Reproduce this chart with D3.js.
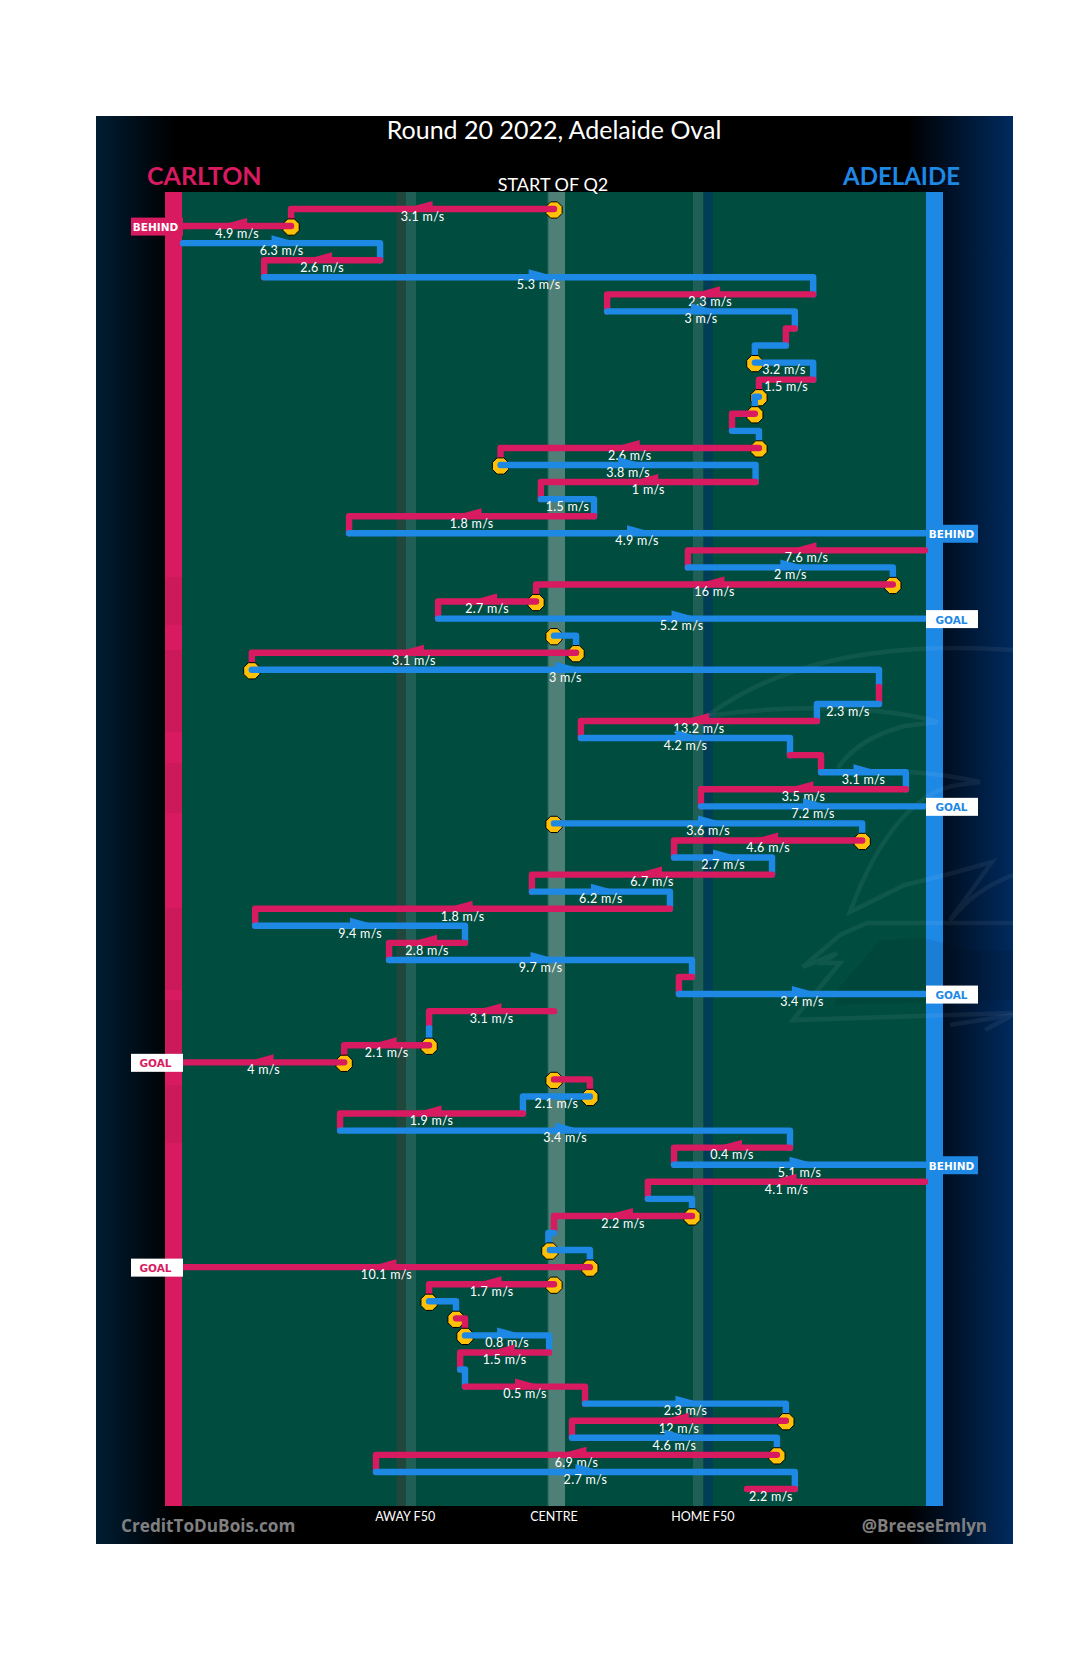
<!DOCTYPE html>
<html><head><meta charset="utf-8">
<script src="https://cdn.jsdelivr.net/npm/d3@7"></script>
<style>html,body{margin:0;padding:0;background:#fff}svg{display:block}</style>
</head><body><div id="chart"></div>
<script>
// Pitch position: -99.2 = away goal line, 0 = centre, 99.2 = home goal line
const team = ("CCACACACAA"+"CACACACACA"+"CACCAACACA"+"CACACAACAC"+"ACACACACAC"+"CCACACACAC"+"AACCACACAC"+"ACACAC").split("");
const startX = [0,-70.3,-99.2,-46.5,-77.5,69.3,14.2,64.4,62,53.7,69.3,54.8,53.7,47.6,54.8,-14.3,53.9,-3.5,10.7,-54.8,99.2,35.8,90.6,-4.8,-31,0,5.9,-80.8,86.9,86.9,70.3,7.2,63.1,71.4,94.1,39.3,0,82.4,32.1,58.3,-5.9,31,-79.9,-23.8,-44.1,36.9,33.4,0,-33.4,-33.4,-56.1,0,9.6,-8.3,-57.2,63.1,32.1,99.2,25.1,36.9,0,-1.1,9.6,0,-33.4,-26.2,-23.8,-1.3,-25.1,-23.8,8.3,62,4.8,59.6,-47.6,64.4];
const endX = [-70.3,-99.2,-46.5,-77.5,69.3,14.2,64.4,62,53.7,69.3,54.8,53.7,47.6,54.8,-14.3,53.9,-3.5,10.7,-54.8,99.2,35.8,90.6,-4.8,-31,99.2,5.9,-80.8,86.9,86.9,70.3,7.2,63.1,71.4,94.1,39.3,99.2,82.4,32.1,58.3,-5.9,31,-79.9,-23.8,-44.1,36.9,33.4,99.2,-33.4,-33.4,-56.1,-99.2,9.6,-8.3,-57.2,63.1,32.1,99.2,25.1,36.9,0,-1.5,9.6,-99.2,-33.4,-26.2,-23.8,-1.3,-25.1,-23.8,8.3,62,4.8,59.6,-47.6,64.4,51.6];
const speed = [3.1,4.9,6.3,2.6,5.3,2.3,3,null,null,3.2,1.5,null,null,null,2.6,3.8,1,1.5,1.8,4.9,7.6,2,16,2.7,5.2,null,3.1,3,null,2.3,13.2,4.2,null,3.1,3.5,7.2,3.6,4.6,2.7,6.7,6.2,1.8,9.4,2.8,9.7,null,3.4,3.1,null,2.1,4,null,2.1,1.9,3.4,0.4,5.1,4.1,null,2.2,null,null,10.1,1.7,null,null,0.8,1.5,null,0.5,2.3,12,4.6,6.9,2.7,2.2];
const contestRows = [0,1,9,11,12,14,15,22,23,25,26,27,36,37,49,50,51,52,59,61,62,63,64,65,66,71,73];
const outcomes = [[1,"BEHIND"],[19,"BEHIND"],[24,"GOAL"],[35,"GOAL"],[46,"GOAL"],[50,"GOAL"],[56,"BEHIND"],[62,"GOAL"]];
const zoneLabels = [["AWAY F50",-39.8],["CENTRE",0],["HOME F50",39.8]];
const teamNames = {C:"CARLTON",A:"ADELAIDE"};
const teamColor = {C:"#d81b60",A:"#1e88e5"};
const FONT = "Lato, 'Open Sans', sans-serif";

const svg = d3.select("#chart").append("svg").attr("width",1080).attr("height",1675);
const x = d3.scaleLinear().domain([-100,100]).range([180,928]);
const y = d3.scaleLinear().domain([0,75]).range([209,1489]);

const defs = svg.append("defs");
const bg = defs.append("linearGradient").attr("id","bgGrad").attr("x1",0).attr("x2",1).attr("y1",0).attr("y2",0);
[[0,"#001d33"],[0.085,"#000000"],[0.885,"#000000"],[1,"#002a5e"]].forEach(s=>bg.append("stop").attr("offset",s[0]).attr("stop-color",s[1]));
const cg = defs.append("linearGradient").attr("id","centreGrad").attr("x1",0).attr("x2",1).attr("y1",0).attr("y2",0);
[[0,"#004d40"],[0.12,"#4f8077"],[1,"#4f8077"]].forEach(s=>cg.append("stop").attr("offset",s[0]).attr("stop-color",s[1]));
defs.append("clipPath").attr("id","panelClip").append("rect").attr("x",96).attr("y",116).attr("width",917).attr("height",1428);

// panel and pitch
svg.append("rect").attr("x",96).attr("y",116).attr("width",917).attr("height",1428).attr("fill","url(#bgGrad)");
svg.append("rect").attr("x",165).attr("y",192).attr("width",778).attr("height",1314).attr("fill","#004d40");
svg.append("rect").attr("x",396.5).attr("y",192).attr("width",9.5).attr("height",1314).attr("fill","#21473c");
svg.append("rect").attr("x",406).attr("y",192).attr("width",10).attr("height",1314).attr("fill","#1f5f55");
svg.append("rect").attr("x",547).attr("y",192).attr("width",18).attr("height",1314).attr("fill","url(#centreGrad)");
svg.append("rect").attr("x",693).attr("y",192).attr("width",10.5).attr("height",1314).attr("fill","#1f5f55");
svg.append("rect").attr("x",703.5).attr("y",192).attr("width",9.5).attr("height",1314).attr("fill","#003e55");
svg.append("rect").attr("x",165).attr("y",192).attr("width",17).attr("height",1314).attr("fill",teamColor.C);
svg.append("rect").attr("x",926).attr("y",192).attr("width",17).attr("height",1314).attr("fill",teamColor.A);

// faint logo watermarks
const wm = svg.append("g").attr("clip-path","url(#panelClip)");
[[577,625],[650,732],[763,813],[908,990],[1000,1055],[1085,1143]].forEach(b=>
  wm.append("rect").attr("x",165).attr("y",b[0]).attr("width",17).attr("height",b[1]-b[0]).attr("fill","#000").attr("opacity",0.06));
wm.append("path").attr("d","M837,990 L880,940 L920,938 C945,940 960,955 1013,950 L1013,1000 L925,1003 L835,1005 Z").attr("fill","#000").attr("opacity",0.08);
["M707,716 C770,670 860,640 1013,650",
 "M707,716 C780,705 880,705 938,722 L905,726 C870,735 850,750 838,768",
 "M910,772 Q950,775 980,782 L958,785 C920,790 880,830 850,912 L905,885 C935,878 965,870 992,862 L950,920 C975,890 1000,880 1013,875",
 "M1013,923 L867,923 L840,935 L803,967 L837,953 L823,963 L840,963 L793,1020 L1013,1013",
 "M950,1025 L1013,1015 L985,1030"].forEach(d=>
  wm.append("path").attr("d",d).attr("fill","none").attr("stroke","#fff").attr("stroke-width",4.5).attr("opacity",0.06));

// headings
svg.append("text").attr("x",554).attr("y",138.5).attr("text-anchor","middle").attr("fill","#fff").attr("font-family",FONT).attr("font-size",25).text("Round 20 2022, Adelaide Oval");
svg.append("text").attr("x",147).attr("y",184.5).attr("fill",teamColor.C).attr("font-family",FONT).attr("font-size",25).attr("font-weight",700).text(teamNames.C);
svg.append("text").attr("x",960).attr("y",184.5).attr("text-anchor","end").attr("fill",teamColor.A).attr("font-family",FONT).attr("font-size",24).attr("font-weight",700).text(teamNames.A);
svg.append("text").attr("x",553).attr("y",190.5).attr("text-anchor","middle").attr("fill","#fff").attr("font-family",FONT).attr("font-size",18).text("START OF Q2");
zoneLabels.forEach(z=>svg.append("text").attr("x",x(z[1])).attr("y",1520.5).attr("text-anchor","middle").attr("fill","#fff").attr("font-family",FONT).attr("font-size",12.5).text(z[0]));
svg.append("text").attr("x",121).attr("y",1532).attr("fill","#808080").attr("font-family","'Open Sans', sans-serif").attr("font-weight",700).attr("font-size",17.2).text("CreditToDuBois.com");
svg.append("text").attr("x",987).attr("y",1532).attr("text-anchor","end").attr("fill","#808080").attr("font-family","'Open Sans', sans-serif").attr("font-weight",700).attr("font-size",17).text("@BreeseEmlyn");

// plays, drawn in order so each one sits over the previous
const line = d3.line();
const octagon = d3.range(8).map(k=>{const a=Math.PI/8+k*Math.PI/4;return [8.8*Math.cos(a),8.8*Math.sin(a)];});
const outcomeAt = new Map(outcomes);
const plays = svg.append("g");
team.forEach((t,i)=>{
  const c = teamColor[t], x0=x(startX[i]), x1=x(endX[i]), yi=y(i);
  if(contestRows.includes(i)){
    plays.append("polygon").attr("points",octagon.map(p=>[x0+p[0],yi+1+p[1]].join(",")).join(" "))
      .attr("fill","#ffc107").attr("stroke","#000").attr("stroke-width",1);
  }
  const pts=[[x0,yi],[x1,yi]];
  if(!outcomeAt.has(i) && i<team.length-1) pts.push([x1,y(i+1)]);
  plays.append("path").attr("d",line(pts)).attr("fill","none").attr("stroke",c).attr("stroke-width",6.4)
    .attr("stroke-linejoin","round").attr("stroke-linecap","round");
  const span=Math.abs(endX[i]-startX[i]), xm=(x0+x1)/2, dir=x1>x0?1:-1;
  if(span>=20){
    plays.append("polygon").attr("points",[[xm+dir*10,yi-2.5],[xm-dir*10,yi-8],[xm-dir*10,yi+2.5]].map(p=>p.join(",")).join(" ")).attr("fill",c);
  }
  if(speed[i]!==null){
    plays.append("text").attr("x",xm).attr("y",yi+11.8).attr("text-anchor","middle").attr("fill","#fff")
      .attr("font-family",FONT).attr("font-size",12.5).attr("letter-spacing",0.3).text(speed[i]+" m/s");
  }
});

// outcome badges
outcomes.forEach(o=>{
  const i=o[0], t=team[i], isGoal=o[1]==="GOAL", left=endX[i]<0, bx=left?131:926, yi=y(i);
  svg.append("rect").attr("x",bx).attr("y",yi-8.5).attr("width",52).attr("height",18).attr("fill",isGoal?"#fff":teamColor[t]);
  svg.append("text").attr("x",bx+(left?24.5:25.5)).attr("y",yi+5).attr("text-anchor","middle").attr("fill",isGoal?teamColor[t]:"#fff")
    .attr("font-family","'DejaVu Sans', sans-serif").attr("font-weight",700).attr("font-size",10.5).text(o[1]);
});
</script></body></html>
